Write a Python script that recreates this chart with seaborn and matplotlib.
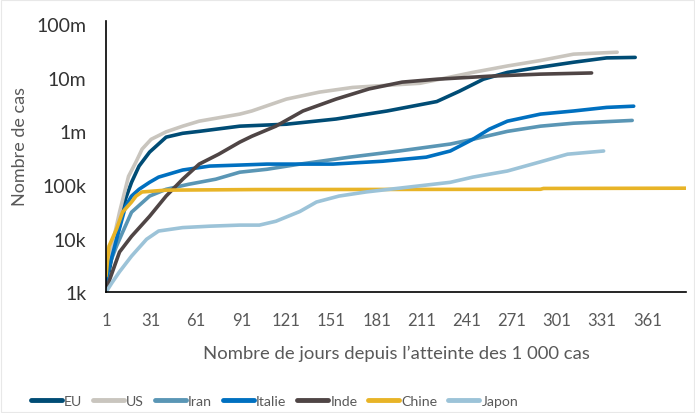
import pandas as pd
import matplotlib
matplotlib.use('Agg')
import matplotlib.pyplot as plt
import seaborn as sns

# Cases since reaching 1 000 cases
eu_days = [1, 5, 10, 14, 18, 23, 30, 41, 52, 63, 90, 121, 154, 188, 221, 236, 252, 268, 290, 312, 334, 353]
eu_cas = [1.2e3, 4.7e3, 17e3, 55e3, 112e3, 225e3, 410e3, 780e3, 920e3, 1.0e6, 1.25e6, 1.36e6,
          1.7e6, 2.4e6, 3.6e6, 5.6e6, 9.4e6, 12.6e6, 15.8e6, 19.5e6, 23.5e6, 24e6]

us_days = [1, 6, 10, 16, 21, 25, 31, 41, 52, 63, 90, 98, 121, 143, 165, 176, 210, 245, 268, 290, 312, 341]
us_cas = [1.4e3, 9.7e3, 31e3, 145e3, 270e3, 466e3, 710e3, 980e3, 1.25e6, 1.55e6, 2.1e6, 2.4e6,
          4.0e6, 5.4e6, 6.6e6, 6.9e6, 7.9e6, 12.6e6, 16.6e6, 21e6, 27.6e6, 30e6]

iran_days = [1, 3, 8, 12, 18, 30, 41, 56, 74, 90, 108, 130, 163, 196, 230, 245, 268, 290, 312, 351]
iran_cas = [1.4e3, 3.1e3, 7.2e3, 13e3, 31e3, 62e3, 83e3, 103e3, 128e3, 173e3, 196e3, 245e3,
            330e3, 430e3, 580e3, 710e3, 1.0e6, 1.25e6, 1.42e6, 1.6e6]

italie_days = [1, 8, 14, 18, 23, 30, 36, 52, 70, 90, 108, 152, 185, 214, 230, 245, 256, 268, 290,
               312, 334, 352]
italie_cas = [1.7e3, 9.7e3, 40e3, 62e3, 83e3, 112e3, 140e3, 190e3, 225e3, 235e3, 245e3, 245e3,
              277e3, 330e3, 430e3, 710e3, 1.1e6, 1.55e6, 2.1e6, 2.4e6, 2.8e6, 2.95e6]

inde_days = [1, 10, 18, 30, 41, 52, 63, 76, 90, 98, 114, 132, 154, 176, 198, 221, 256, 290, 324]
inde_cas = [1.1e3, 5.6e3, 11e3, 26e3, 62e3, 128e3, 245e3, 375e3, 630e3, 810e3, 1.25e6,
            2.4e6, 4.0e6, 6.2e6, 8.3e6, 9.4e6, 10.7e6, 11.7e6, 12.3e6]

chine_days = [1, 3, 8, 12, 18, 21, 25, 41, 100, 290, 292, 388]
chine_cas = [2.0e3, 7.2e3, 15e3, 31e3, 48e3, 62e3, 74e3, 80e3, 82e3, 83e3, 86e3, 87e3]

japon_days = [1, 5, 10, 18, 28, 36, 52, 70, 90, 103, 114, 130, 141, 156, 174, 196, 230, 245,
              268, 290, 308, 332]
japon_cas = [1.0e3, 1.5e3, 2.4e3, 4.7e3, 9.7e3, 13.8e3, 16e3, 17e3, 17.8e3, 17.8e3, 21e3, 32e3,
             48e3, 62e3, 74e3, 87e3, 112e3, 140e3, 182e3, 270e3, 375e3, 430e3]

pays = ['EU', 'US', 'Iran', 'Italie', 'Inde', 'Chine', 'Japon']
couleurs = ['#004c75', '#c9c5be', '#5a96b5', '#0070c0', '#4f4545', '#e8b427', '#9cc3d8']

x_ticks = [1, 31, 61, 91, 121, 151, 181, 211, 241, 271, 301, 331, 361]
y_ticks = [1e3, 1e4, 1e5, 1e6, 1e7, 1e8]
y_labels = ['1k', '10k', '100k', '1m', '10m', '100m']

# Build long table for seaborn
series = {
    'EU': (eu_days, eu_cas),
    'US': (us_days, us_cas),
    'Iran': (iran_days, iran_cas),
    'Italie': (italie_days, italie_cas),
    'Inde': (inde_days, inde_cas),
    'Chine': (chine_days, chine_cas),
    'Japon': (japon_days, japon_cas),
}
frames = []
for name, (d, c) in series.items():
    frames.append(pd.DataFrame({'jour': d, 'cas': c, 'pays': name}))
df = pd.concat(frames, ignore_index=True)

sns.set_style('white')
plt.rcParams['font.family'] = ['Lato', 'DejaVu Sans']

fig = plt.figure(figsize=(6.95, 4.14), dpi=100)
ax = fig.add_axes([0.1525, 0.292, 0.835, 0.655])

sns.lineplot(data=df, x='jour', y='cas', hue='pays', hue_order=pays,
             palette=dict(zip(pays, couleurs)), estimator=None, sort=True,
             linewidth=2.6, solid_capstyle='round', ax=ax)

ax.set_yscale('log')
ax.set_ylim(1e3, 1.15e8)
ax.set_xlim(1, 387)
ax.set_yticks(y_ticks)
ax.set_yticklabels(y_labels)
ax.minorticks_off()
ax.set_xticks(x_ticks)
ax.tick_params(axis='y', labelsize=14, colors='#333333', length=0, pad=14)
ax.tick_params(axis='x', labelsize=12, colors='#595959', length=0, pad=14)

for s in ['top', 'right']:
    ax.spines[s].set_visible(False)
for s in ['left', 'bottom']:
    ax.spines[s].set_color('black')
    ax.spines[s].set_linewidth(1.2)

ax.set_xlabel('Nombre de jours depuis l\u2019atteinte des 1 000 cas', fontsize=13.3,
              color='#595959', labelpad=12)
ax.set_ylabel('Nombre de cas', fontsize=13, color='#595959')
ax.yaxis.set_label_coords(-0.135, 0.54)

sns.move_legend(ax, 'center', bbox_to_anchor=(0.395, 0.028), bbox_transform=fig.transFigure,
                ncol=7, frameon=False, title=None, handlelength=2.2,
                columnspacing=0.75, handletextpad=0.15, fontsize=10.2)
for t in ax.get_legend().get_texts():
    t.set_color('#595959')
for h in ax.get_legend().legend_handles:
    h.set_linewidth(3.5)
    h.set_solid_capstyle('round')

fig.patches.append(plt.Rectangle((0.002, 0.002), 0.996, 0.996, transform=fig.transFigure,
                                 fill=False, edgecolor='#e8e8e8', linewidth=0.8))

fig.savefig('out.png', dpi=100)
